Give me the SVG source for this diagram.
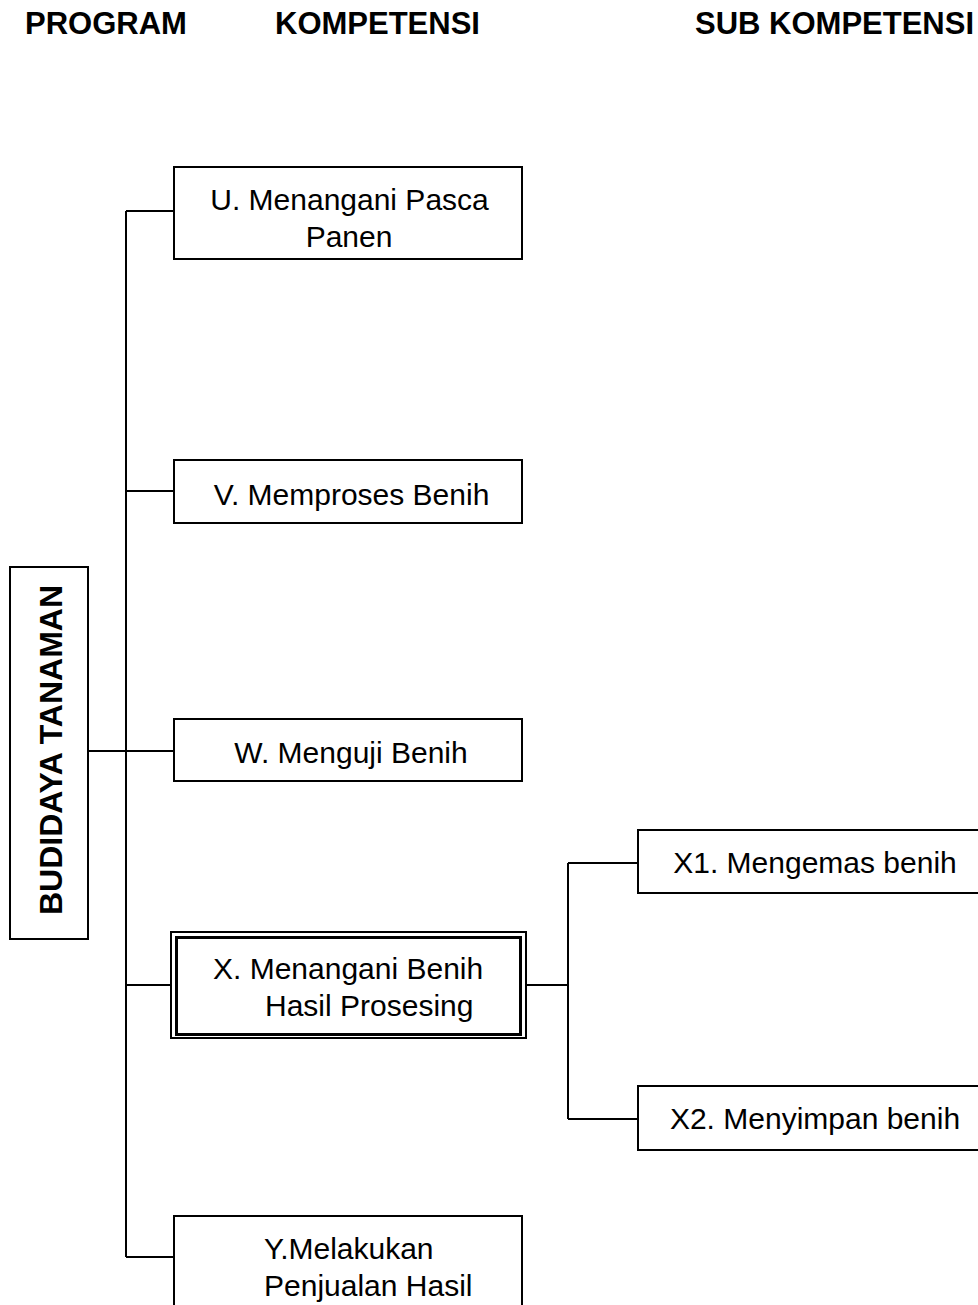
<svg xmlns="http://www.w3.org/2000/svg" width="978" height="1305" viewBox="0 0 978 1305">
<style>
.box{fill:#fff;stroke:#000;stroke-width:2}
.ln{fill:none;stroke:#000;stroke-width:2}
.t{font-family:"Liberation Sans",Arial,sans-serif;font-size:30px;fill:#000}
.h{font-family:"Liberation Sans",Arial,sans-serif;font-size:31px;font-weight:bold;fill:#000}
</style>
<rect width="978" height="1305" fill="#fff"/>
<g id="headers">
<text class="h" x="25" y="34">PROGRAM</text>
<text class="h" x="275" y="34">KOMPETENSI</text>
<text class="h" x="695" y="34">SUB KOMPETENSI</text>
</g>
<g id="connectors">
<path class="ln" d="M126 211V1257M126 211H174M126 491H174M88 751H174M126 985H171M126 1257H174"/>
<path class="ln" d="M526 985H568M568 863V1119M568 863H638M568 1119H638"/>
</g>
<g id="node-program">
<rect class="box" x="10" y="567" width="78" height="372"/>
<text class="h" style="font-size:32px" transform="translate(62 750) rotate(-90)" text-anchor="middle">BUDIDAYA TANAMAN</text>
</g>
<g id="node-u">
<rect class="box" x="174" y="167" width="348" height="92"/>
<text class="t" x="349.5" y="210" text-anchor="middle">U. Menangani Pasca</text>
<text class="t" x="349" y="247" text-anchor="middle">Panen</text>
</g>
<g id="node-v">
<rect class="box" x="174" y="460" width="348" height="63"/>
<text class="t" x="351.5" y="505" text-anchor="middle">V. Memproses Benih</text>
</g>
<g id="node-w">
<rect class="box" x="174" y="719" width="348" height="62"/>
<text class="t" x="351" y="763" text-anchor="middle">W. Menguji Benih</text>
</g>
<g id="node-x">
<rect class="box" x="171" y="932" width="355" height="106" stroke-width="1.5"/>
<rect x="176.5" y="937.5" width="344" height="97" fill="none" stroke="#000" stroke-width="3"/>
<text class="t" x="213" y="979">X. Menangani Benih</text>
<text class="t" x="265" y="1016">Hasil Prosesing</text>
</g>
<g id="node-x1">
<rect class="box" x="638" y="830" width="360" height="63"/>
<text class="t" x="815" y="873" text-anchor="middle">X1. Mengemas benih</text>
</g>
<g id="node-x2">
<rect class="box" x="638" y="1086" width="360" height="64"/>
<text class="t" x="815" y="1129" text-anchor="middle">X2. Menyimpan benih</text>
</g>
<g id="node-y">
<rect class="box" x="174" y="1216" width="348" height="110"/>
<text class="t" x="264" y="1259">Y.Melakukan</text>
<text class="t" x="264" y="1296">Penjualan Hasil</text>
</g>
</svg>
